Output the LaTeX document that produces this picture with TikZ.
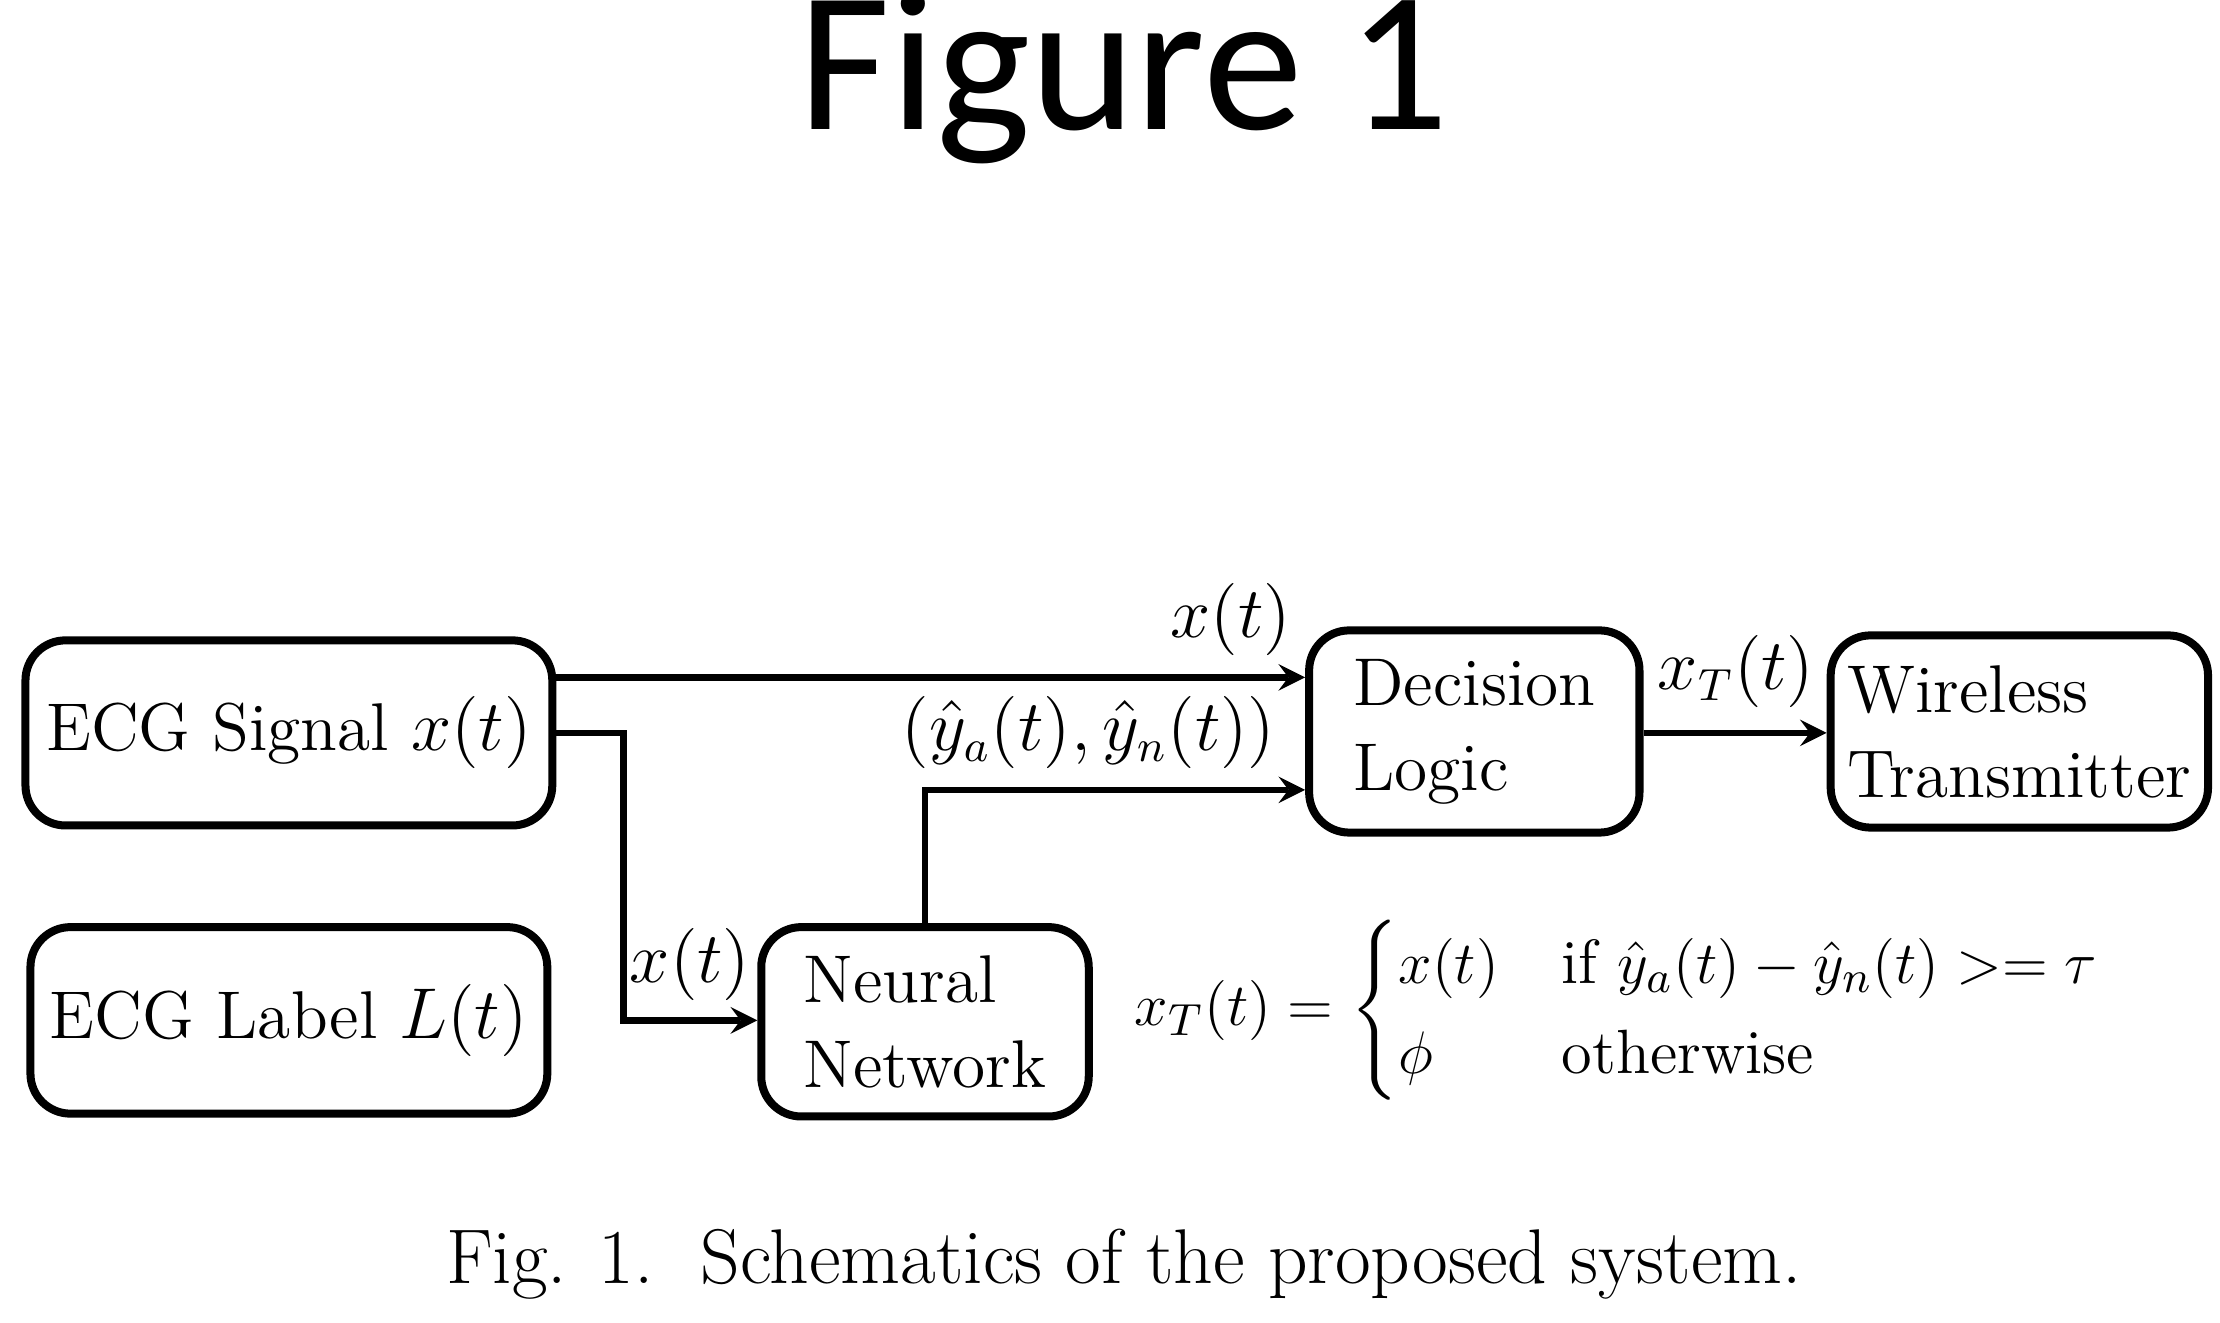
\documentclass[tikz,border=0pt]{standalone}
\usepackage{amsmath}
\usepackage{fontspec}
\newfontfamily\titlefont{Carlito}
\begin{document}
\begin{tikzpicture}[x=0.01cm,y=-0.01cm,
  box/.style={draw,line width=1.6pt,rounded corners=8pt,align=left,font=\fontsize{13.5}{17}\selectfont},
  lab/.style={font=\fontsize{13.5}{17}\selectfont},
  arr/.style={->,line width=1.3pt,>=stealth}]
\useasboundingbox (0,0) rectangle (1560,929);
\node[font=\titlefont\fontsize{40}{46}\selectfont] (title) at (790,55) {Figure 1};
\node[box,minimum width=3.70cm,minimum height=1.30cm] (sig) at (203,515) {ECG Signal $x(t)$};
\node[box,minimum width=3.63cm,minimum height=1.31cm] (lbl) at (203,717) {ECG Label $L(t)$};
\node[box,minimum width=2.30cm,minimum height=1.33cm] (nn) at (650,718) {Neural\\Network};
\node[box,minimum width=2.32cm,minimum height=1.42cm] (dl) at (1036,514) {Decision\\Logic};
\node[box,minimum width=2.58cm,minimum height=1.35cm] (wt) at (1419,514) {Wireless\\Transmitter};
\coordinate (a1) at (sig.east |- 0,476);
\draw[arr] (a1) -- (dl.west |- a1);
\node[lab] (l1) at (865,435) {$x(t)$};
\coordinate (b1) at (sig.east |- 0,515);
\draw[arr] (b1) -- (438,515) -- (438,717) -- (nn.west |- 0,717);
\node[lab] (l2) at (485,678) {$x(t)$};
\draw[arr] (nn.north) -- (650,555) -- (dl.west |- 0,555);
\node[lab] (l3) at (765,515) {$(\hat{y}_a(t),\hat{y}_n(t))$};
\draw[arr] (dl.east |- 0,515) -- (wt.west |- 0,515);
\node[lab] (l4) at (1220,472) {$x_T(t)$};
\node[font=\fontsize{12.5}{15}\selectfont,anchor=west] (eq) at (785,710) {$x_T(t)=\begin{cases} x(t) & \text{if } \hat{y}_a(t)-\hat{y}_n(t)>=\tau\\ \phi & \text{otherwise}\end{cases}$};
\node[font=\fontsize{15.5}{19}\selectfont] (cap) at (790,888) {Fig. 1.\ \ Schematics of the proposed system.};
\end{tikzpicture}
\end{document}
